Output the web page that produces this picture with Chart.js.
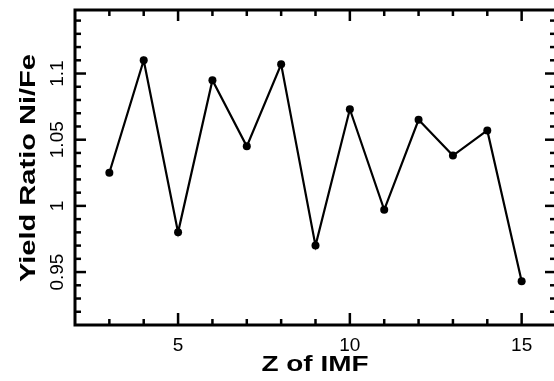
<!DOCTYPE html>
<html>
<head>
<meta charset="utf-8">
<script src="https://cdn.jsdelivr.net/npm/chart.js@4/dist/chart.umd.min.js"></script>
<style>
  html, body { margin: 0; padding: 0; background: #fff; overflow: hidden; }
  #wrap { width: 554px; height: 381px; overflow: hidden; }
</style>
</head>
<body>
<div id="wrap"><canvas id="chart" width="560" height="381"></canvas></div>
<script>
// Yield ratio Ni/Fe per Z of IMF
const zValues = [3, 4, 5, 6, 7, 8, 9, 10, 11, 12, 13, 14, 15];
const yieldRatio = [1.025, 1.11, 0.98, 1.095, 1.045, 1.107, 0.97, 1.073, 0.997, 1.065, 1.038, 1.057, 0.943];
const xMajorTicks = [5, 10, 15];
const xMinorTicks = [3, 4, 6, 7, 8, 9, 11, 12, 13, 14];
const yMajorTicks = [0.95, 1, 1.05, 1.1];
const yMinorTicks = [0.92, 0.93, 0.94, 0.96, 0.97, 0.98, 0.99, 1.01, 1.02, 1.03, 1.04,
                     1.06, 1.07, 1.08, 1.09, 1.11, 1.12, 1.13, 1.14];
const xTitle = 'Z of IMF';
const yTitle = 'Yield Ratio Ni/Fe';

// the original plot font is wide, so stretch text horizontally to a given width
function wideText(ctx, text, cx, cy, width) {
    const raw = ctx.measureText(text).width;
    ctx.save();
    ctx.translate(cx, cy);
    ctx.scale(width / raw, 1);
    ctx.textAlign = 'center';
    ctx.fillText(text, 0, 0);
    ctx.restore();
}

const framePlugin = {
    id: 'frame',
    afterDraw(chart) {
        const ctx = chart.ctx;
        const a = chart.chartArea;
        const xs = chart.scales.x;
        const ys = chart.scales.y;
        ctx.save();
        ctx.strokeStyle = '#000';
        ctx.fillStyle = '#000';
        ctx.lineWidth = 3;
        ctx.strokeRect(a.left, a.top, a.right - a.left, a.bottom - a.top);

        ctx.lineWidth = 2.5;
        const tick = (x1, y1, x2, y2) => {
            ctx.beginPath();
            ctx.moveTo(x1, y1);
            ctx.lineTo(x2, y2);
            ctx.stroke();
        };
        xMajorTicks.forEach(v => {
            const px = xs.getPixelForValue(v);
            tick(px, a.bottom, px, a.bottom - 12);
            tick(px, a.top, px, a.top + 11);
        });
        xMinorTicks.forEach(v => {
            const px = xs.getPixelForValue(v);
            tick(px, a.bottom, px, a.bottom - 6);
            tick(px, a.top, px, a.top + 6);
        });
        yMajorTicks.forEach(v => {
            const py = ys.getPixelForValue(v);
            tick(a.left, py, a.left + 11, py);
            tick(a.right, py, a.right - 11, py);
        });
        yMinorTicks.forEach(v => {
            const py = ys.getPixelForValue(v);
            tick(a.left, py, a.left + 6, py);
            tick(a.right, py, a.right - 6, py);
        });

        // tick labels
        ctx.font = '19px "Liberation Sans", Arial, sans-serif';
        ctx.textAlign = 'center';
        ctx.textBaseline = 'alphabetic';
        xMajorTicks.forEach(v => {
            ctx.fillText(String(v), xs.getPixelForValue(v), 351);
        });
        yMajorTicks.forEach(v => {
            const py = ys.getPixelForValue(v);
            ctx.save();
            ctx.translate(63, py);
            ctx.rotate(-Math.PI / 2);
            ctx.textAlign = 'center';
            ctx.fillText(String(v), 0, 0);
            ctx.restore();
        });

        // axis titles
        ctx.font = 'bold 22px "Liberation Sans", Arial, sans-serif';
        wideText(ctx, xTitle, 315, 371, 107);
        ctx.save();
        ctx.translate(35, 168);
        ctx.rotate(-Math.PI / 2);
        wideText(ctx, yTitle, 0, 0, 228);
        ctx.restore();
        ctx.restore();
    }
};

new Chart(document.getElementById('chart'), {
    type: 'line',
    data: {
        datasets: [{
            data: zValues.map((z, i) => ({ x: z, y: yieldRatio[i] })),
            borderColor: '#000',
            backgroundColor: '#000',
            borderWidth: 2.2,
            pointRadius: 4,
            pointBackgroundColor: '#000',
            pointBorderWidth: 0,
            tension: 0
        }]
    },
    options: {
        responsive: false,
        animation: false,
        layout: { padding: { left: 75, top: 10, right: 3, bottom: 56 } },
        plugins: { legend: { display: false }, tooltip: { enabled: false } },
        scales: {
            x: { type: 'linear', display: false, min: 2, max: 16 },
            y: { type: 'linear', display: false, min: 0.91, max: 1.148 }
        }
    },
    plugins: [framePlugin]
});
</script>
</body>
</html>
